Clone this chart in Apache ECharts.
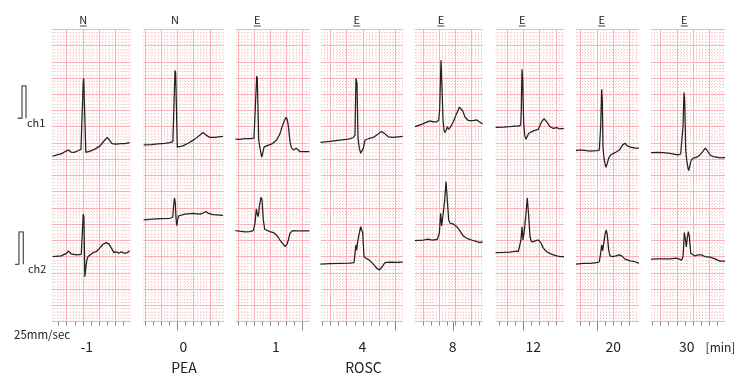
<!DOCTYPE html>
<html>
<head>
<meta charset="utf-8">
<script src="https://cdn.jsdelivr.net/npm/echarts@6/dist/echarts.min.js"></script>
<style>
html, body { margin: 0; padding: 0; background: #fff; }
#chart { width: 750px; height: 386px; }
</style>
</head>
<body>
<div id="chart"></div>
<script>
// ECG strips: x in mm from the first major line (25 mm/sec),
// y in mm from the bottom of the strip (10 mm = 1 mV)
const minutes = ['-1', '0', '1', '4', '8', '12', '20', '30']
const rhythm = ['N', 'N', 'E', 'E', 'E', 'E', 'E', 'E']
const events = ['PEA', 'ROSC']

const ch1_m1 = [[-4.4,50.9],[-3.0,51.3],[-1.5,51.7],[-0.2,52.5],[0.6,52.8],[1.3,52.2],[2.3,52.1],[3.5,52.6],[4.4,53.0],[4.9,53.1],[5.1,73.8],[5.25,74.9],[5.5,74.4],[5.9,52.1],[6.3,51.9],[7.2,52.5],[8.7,53.1],[10.3,54.1],[11.5,55.6],[12.5,56.7],[13.2,55.9],[14.0,54.8],[15.2,54.6],[16.8,54.8],[18.0,54.8],[19.4,55.1]]
const ch2_m1 = [[-4.3,20.0],[-1.7,20.2],[-0.1,21.0],[0.6,21.7],[1.4,20.8],[3.0,20.5],[4.5,20.7],[4.9,21.0],[5.1,33.1],[5.3,32.3],[5.6,13.8],[5.9,13.8],[6.2,18.9],[6.6,20.0],[7.1,20.5],[8.1,21.2],[9.1,21.5],[10.2,22.6],[11.2,23.8],[12.2,24.3],[13.0,23.9],[13.8,22.6],[14.6,21.2],[15.3,21.5],[16.1,21.0],[16.9,21.5],[17.7,21.0],[18.7,21.2],[19.4,21.8]]

const ch1_0 = [[-0.4,54.4],[1.9,54.5],[4.0,54.7],[6.1,54.9],[7.6,55.1],[8.6,55.4],[8.95,55.9],[9.26,77.3],[9.47,76.5],[9.97,53.7],[10.4,53.5],[11.7,54.1],[13.3,54.9],[15.3,56.1],[16.9,57.4],[17.9,58.2],[18.9,57.4],[20.0,56.7],[21.5,56.7],[24.1,57.0]]
const ch2_0 = [[-0.4,31.3],[2.2,31.5],[5.3,31.7],[7.7,31.8],[8.55,32.1],[8.86,35.9],[9.11,38.0],[9.35,36.5],[9.57,31.9],[9.79,29.5],[10.03,31.0],[10.34,32.5],[10.8,33.0],[12.3,33.1],[14.8,33.3],[17.0,33.1],[17.9,33.4],[18.8,33.9],[19.6,33.3],[21.0,32.9],[24.1,32.7]]

const ch1_1 = [[-5.7,56.2],[-4.4,56.1],[-2.8,56.3],[-1.2,56.3],[0,56.5],[0.4,56.9],[0.83,75.6],[1.02,74.9],[1.45,55.9],[1.85,53.4],[2.25,51.3],[2.38,50.6],[2.69,51.8],[3.09,53.7],[3.9,54.1],[5.5,54.7],[7.0,55.9],[8.0,57.8],[9.0,61.0],[9.9,62.9],[10.3,62.1],[10.7,59.5],[11.1,55.4],[11.6,53.4],[12.3,52.8],[13.0,53.4],[13.4,52.8],[14.2,52.3],[17.1,52.3]]
const ch2_1 = [[-5.7,28.0],[-4.4,27.8],[-2.8,27.6],[-1.2,27.7],[-0.2,28.0],[0.31,30.3],[0.71,34.6],[1.02,33.1],[1.33,32.3],[1.64,35.4],[2.16,38.3],[2.47,37.4],[2.87,31.3],[3.3,28.4],[3.9,28.0],[4.9,27.7],[6.0,27.4],[7.0,26.6],[8.0,25.1],[9.0,23.8],[9.7,23.1],[10.2,23.8],[10.6,25.1],[11.1,27.2],[11.9,28.0],[13.2,27.9],[15.2,27.9],[17.1,27.9]]

const ch1_4 = [[-3.1,55.2],[-0.2,55.5],[2.9,55.9],[5.5,56.2],[7.0,56.6],[7.56,57.4],[7.87,74.9],[8.18,73.4],[8.49,56.4],[8.89,53.4],[9.32,51.8],[9.72,51.3],[10.13,53.4],[10.65,55.9],[11.7,56.3],[13.2,56.7],[14.8,57.8],[15.8,58.5],[16.8,57.8],[17.8,56.9],[19.4,56.7],[22.3,57.0]]
const ch2_4 = [[-3.1,17.7],[-0.2,17.8],[2.9,17.9],[6.0,18.0],[7.25,18.1],[7.56,21.0],[7.87,23.6],[8.08,22.0],[8.39,24.6],[8.89,27.2],[9.32,29.2],[9.63,29.7],[9.94,27.2],[10.34,20.0],[10.96,19.5],[12.0,18.9],[13.2,17.7],[14.3,16.4],[15.1,15.9],[15.8,16.7],[16.8,18.1],[18.4,18.3],[20.4,18.2],[22.3,18.3]]

const ch1_8 = [[-2.5,60.0],[-0.4,60.7],[1.1,61.4],[2.2,61.8],[3.2,61.5],[4.2,61.5],[4.82,61.9],[5.13,65.1],[5.55,80.5],[5.86,72.3],[6.17,62.1],[6.48,59.0],[6.79,58.2],[7.19,59.0],[7.5,60.0],[7.93,59.2],[8.55,60.0],[9.35,61.5],[10.4,64.1],[11.2,66.0],[11.64,66.2],[12.25,64.9],[13.0,62.9],[14.0,61.9],[15.5,61.9],[16.6,62.1],[17.4,61.5],[18.4,60.8]]
const ch2_8 = [[-2.5,24.9],[0.1,25.1],[1.6,25.4],[2.7,25.1],[4.4,25.3],[5.03,27.2],[5.46,33.3],[5.77,29.4],[6.17,32.8],[6.7,37.4],[7.1,43.1],[7.5,37.4],[7.93,31.3],[8.33,30.3],[9.35,30.0],[10.4,29.2],[11.2,28.2],[12.25,26.6],[13.5,25.6],[15.0,25.1],[16.6,24.6],[17.6,24.3],[18.4,24.6]]

const ch1_12 = [[-3.6,59.8],[-1.2,59.9],[0.8,60.0],[2.4,60.2],[2.9,60.7],[3.4,60.2],[4.14,60.5],[4.32,65.1],[4.54,77.7],[4.75,74.4],[5.06,61.1],[5.37,57.4],[5.77,56.1],[6.17,56.4],[6.61,58.0],[7.22,58.5],[8.24,58.8],[9.57,59.2],[10.6,61.5],[11.33,62.5],[12.16,61.5],[13.18,60.0],[14.2,59.5],[15.25,59.7],[16.26,59.3],[17.5,59.5]]
const ch2_12 = [[-3.6,21.2],[-1.2,21.3],[0.8,21.4],[1.85,21.5],[2.68,21.7],[3.4,21.5],[3.92,22.0],[4.23,25.1],[4.54,29.2],[4.85,25.1],[5.16,27.2],[5.68,32.3],[6.17,38.0],[6.61,32.3],[7.01,26.1],[7.41,24.6],[8.03,24.6],[8.86,24.9],[9.57,25.1],[10.31,24.3],[11.11,22.6],[12.16,21.5],[13.18,21.0],[14.2,20.5],[15.25,20.2],[16.26,20.0],[17.5,20.0]]

const ch1_20 = [[-1.45,52.6],[-0.74,52.8],[-0.22,52.5],[0.31,52.8],[0.8,52.5],[1.85,52.6],[2.87,52.5],[4.94,52.6],[5.74,52.8],[6.17,60.0],[6.48,71.5],[6.67,68.2],[6.88,53.8],[7.19,50.3],[7.59,48.2],[7.81,47.5],[8.21,48.7],[8.64,50.3],[9.26,51.3],[10.59,52.0],[11.91,52.8],[12.96,54.4],[13.67,54.9],[14.38,54.1],[15.43,53.7],[16.76,53.4],[17.99,53.4]]
const ch2_20 = [[-1.45,17.7],[0.8,17.9],[2.87,17.9],[4.94,18.1],[5.74,18.4],[6.17,21.0],[6.48,23.6],[6.79,21.8],[7.19,24.6],[7.59,27.2],[7.9,28.2],[8.21,26.6],[8.64,22.0],[9.04,20.2],[9.88,20.0],[10.9,20.2],[11.91,20.5],[12.65,20.2],[13.67,19.2],[15.22,18.7],[16.76,18.4],[17.99,17.9]]

const ch1_30 = [[-2.96,52.0],[-1.2,52.1],[0.83,52.0],[2.9,51.8],[4.44,51.5],[5.46,51.3],[6.2,51.6],[6.61,51.8],[6.92,60.0],[7.22,70.5],[7.44,68.2],[7.75,52.8],[8.06,49.7],[8.46,47.2],[8.67,46.5],[9.07,48.2],[9.47,49.7],[10.09,50.3],[11.14,50.6],[12.16,51.3],[12.99,52.3],[13.8,53.4],[14.41,52.6],[15.25,51.3],[16.26,50.8],[17.31,50.6],[18.33,50.4],[19.87,50.5]]
const ch2_30 = [[-2.96,19.2],[-0.19,19.3],[2.9,19.3],[4.97,19.5],[6.51,18.9],[6.92,20.0],[7.13,23.6],[7.32,27.4],[7.62,25.7],[7.93,23.0],[8.24,25.7],[8.55,27.7],[8.86,26.3],[9.29,21.0],[9.6,20.5],[10.62,20.2],[11.64,20.5],[12.69,20.5],[13.7,20.0],[15.25,19.8],[16.79,19.3],[18.33,18.6],[19.87,18.6]]

// 1 mV calibration pulses (mm)
const cal1 = [[1.14,62.6],[2.47,62.6],[2.47,72.6],[3.7,72.6],[3.7,62.6]]
const cal2 = [[0.31,17.6],[1.54,17.6],[1.54,27.6],[2.87,27.6],[2.87,17.6]]

// long marker tick under each strip (mm), null = none
const markTick = [null, 10, 15, 20, 9.2, 5, 5, null]

const ch1 = [ch1_m1, ch1_0, ch1_1, ch1_4, ch1_8, ch1_12, ch1_20, ch1_30]
const ch2 = [ch2_m1, ch2_0, ch2_1, ch2_4, ch2_8, ch2_12, ch2_20, ch2_30]

// layout (px)
const PX_MM = 3.24
const TOP = 29.3
const BOTTOM = 321.5
const stripLeft = [51.7, 143.3, 235.7, 321, 415, 495.7, 576, 651]
const stripRight = [130.7, 223.3, 309.7, 402.7, 482.7, 564, 639, 725]
const stripMajor0 = [66.7, 145, 254, 330.5, 423, 507.3, 580.7, 660.6]
const rhythmX = [83.3, 175, 257.3, 356.7, 441, 522.3, 601.7, 684.3]
const rhythmUnderline = [true, false, true, true, true, true, true, true]
const minuteX = [86.7, 183.3, 276, 362.3, 452.7, 533.3, 613.3, 686.7]
const eventX = [184, 363.5]

const MAJOR = '#f7b1b7'
const MINOR = '#f8c2c6'
const INK = '#222'
const FONT = '"Noto Sans CJK JP", "Noto Sans", sans-serif'

const chart = echarts.init(document.getElementById('chart'), null, { renderer: 'canvas' })

const grid = []
const xAxis = []
const yAxis = []
const series = []

const hidden = {
	axisLine: { show: false },
	axisTick: { show: false },
	axisLabel: { show: false },
}

stripLeft.forEach((left, i) => {
	const right = stripRight[i]
	const xmin = (left - stripMajor0[i]) / PX_MM
	const xmax = (right - stripMajor0[i]) / PX_MM
	grid.push({ left: left, top: TOP, width: right - left, height: BOTTOM - TOP, containLabel: false })

	// pink paper: 5 mm lines + 1 mm dots
	const gridAxisIndex = xAxis.length
	xAxis.push({
		gridIndex: i,
		type: 'value',
		position: 'bottom',
		min: xmin,
		max: xmax,
		minInterval: 5,
		maxInterval: 5,
		...hidden,
		splitLine: { show: true, showMinLine: false, showMaxLine: false, lineStyle: { color: MAJOR, width: 1 } },
		minorTick: { show: false, splitNumber: 5 },
		minorSplitLine: { show: true, lineStyle: { color: MINOR, width: 1, type: [1, 2] } },
	})

	// 0.1 s ticks under the strip
	const ticks = []
	for (let t = Math.ceil(xmin / 2.5) * 2.5; t < xmax; t += 2.5) {
		if (t > xmin + 0.3 && t < xmax - 0.5) ticks.push(t)
	}
	xAxis.push({
		gridIndex: i,
		type: 'value',
		position: 'bottom',
		min: xmin,
		max: xmax,
		axisLine: { show: false },
		axisLabel: { show: false },
		splitLine: { show: false },
		axisTick: { show: true, length: 4, customValues: ticks, lineStyle: { color: '#888', width: 1 } },
	})
	if (markTick[i] != null) {
		xAxis.push({
			gridIndex: i,
			type: 'value',
			position: 'bottom',
			min: xmin,
			max: xmax,
			axisLine: { show: false },
			axisLabel: { show: false },
			splitLine: { show: false },
			axisTick: { show: true, length: 9, customValues: [markTick[i]], lineStyle: { color: '#888', width: 1 } },
		})
	}

	yAxis.push({
		gridIndex: i,
		type: 'value',
		min: 0,
		max: 90,
		interval: 5,
		...hidden,
		splitLine: { show: true, lineStyle: { color: MAJOR, width: 1 } },
		minorTick: { show: false, splitNumber: 5 },
		minorSplitLine: { show: true, lineStyle: { color: MINOR, width: 1, type: [1, 2] } },
	})

	;[ch1[i], ch2[i]].forEach((trace) => {
		series.push({
			type: 'line',
			xAxisIndex: gridAxisIndex,
			yAxisIndex: i,
			data: trace,
			showSymbol: false,
			symbol: 'none',
			smooth: false,
			lineStyle: { color: INK, width: 1.25 },
			z: 5,
		})
	})
})

// calibration pulses
const calGrid = grid.length
grid.push({ left: 14, top: TOP, width: 16, height: BOTTOM - TOP, containLabel: false })
xAxis.push({ gridIndex: calGrid, type: 'value', min: 0, max: 16 / PX_MM, ...hidden, splitLine: { show: false } })
const calX = xAxis.length - 1
yAxis.push({ gridIndex: calGrid, type: 'value', min: 0, max: 90, interval: 5, ...hidden, splitLine: { show: false } })
;[cal1, cal2].forEach((pulse) => {
	series.push({
		type: 'line',
		xAxisIndex: calX,
		yAxisIndex: calGrid,
		data: pulse,
		showSymbol: false,
		symbol: 'none',
		lineStyle: { color: '#555', width: 1.3 },
	})
})

// texts
const graphic = []
const text = (str, x, y, size, align) => ({
	type: 'text',
	x: x,
	y: y,
	silent: true,
	style: { text: str, fontSize: size, fontFamily: FONT, fill: INK, align: align || 'center', verticalAlign: 'middle' },
})
rhythm.forEach((r, i) => {
	graphic.push(text(r, rhythmX[i], 20, 11))
	if (rhythmUnderline[i]) {
		graphic.push({
			type: 'line',
			silent: true,
			shape: { x1: rhythmX[i] - 3.5, y1: 26, x2: rhythmX[i] + 3.5, y2: 26 },
			style: { stroke: '#444', lineWidth: 1 },
		})
	}
})
minutes.forEach((m, i) => {
	graphic.push(text(m, minuteX[i], 347, 14))
})
events.forEach((e, i) => {
	graphic.push(text(e, eventX[i], 368, 14))
})
graphic.push(text('[min]', 720.5, 347, 12))
graphic.push(text('25mm/sec', 14, 334.5, 11.5, 'left'))
graphic.push(text('ch1', 27, 123, 11, 'left'))
graphic.push(text('ch2', 28, 269, 11, 'left'))

chart.setOption({
	animation: false,
	backgroundColor: '#fff',
	grid: grid,
	xAxis: xAxis,
	yAxis: yAxis,
	series: series,
	graphic: graphic,
})
</script>
</body>
</html>
